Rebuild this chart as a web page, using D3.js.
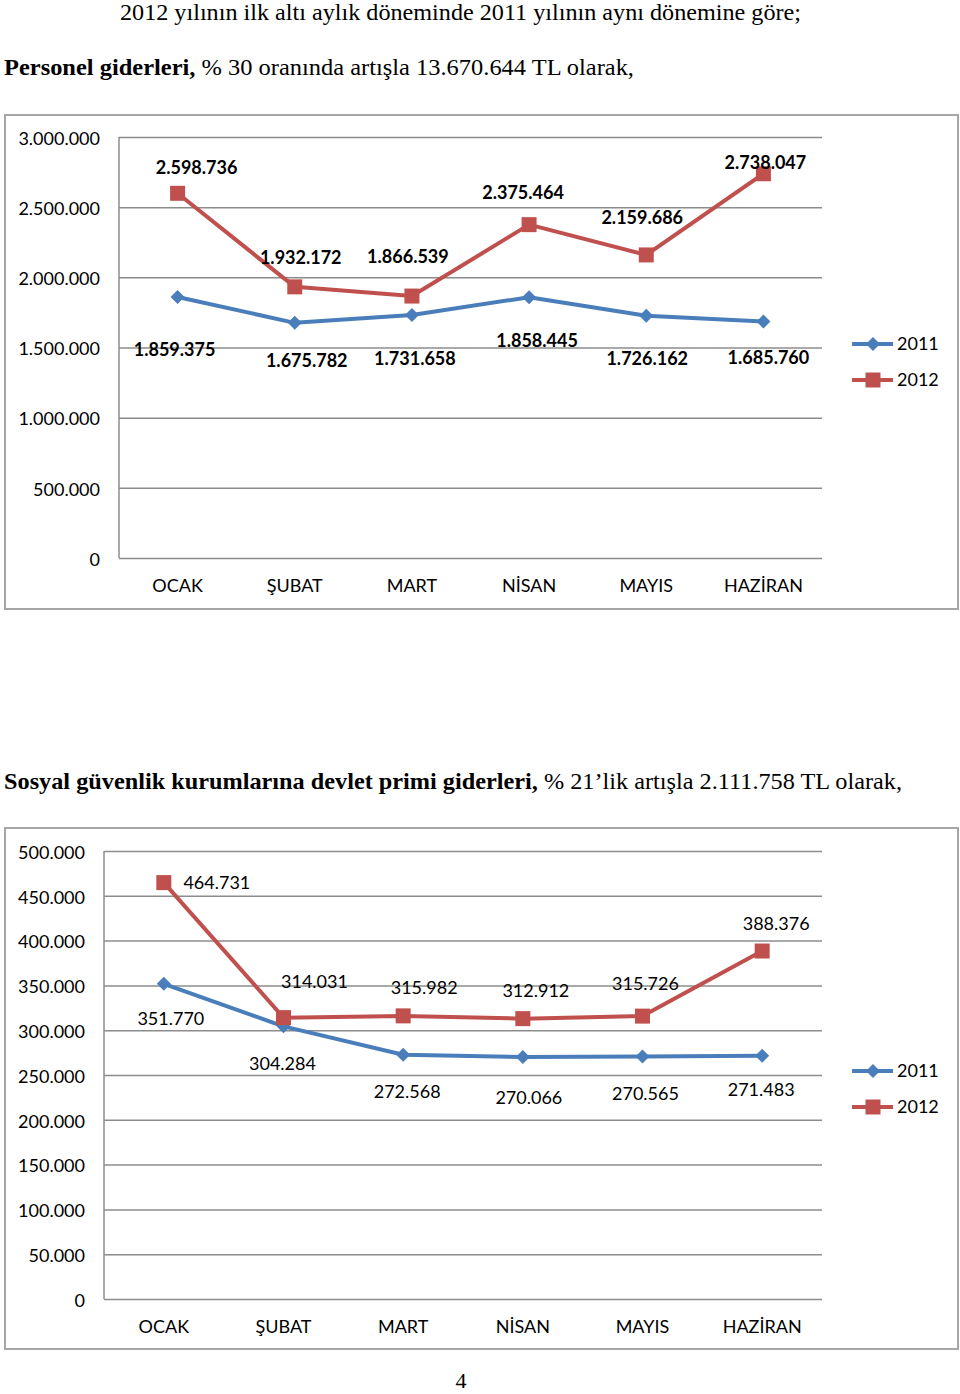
<!DOCTYPE html>
<html>
<head>
<meta charset="utf-8">
<script src="https://cdn.jsdelivr.net/npm/d3@7"></script>
<style>
  body { margin: 0; background: #fff; }
  svg { display: block; }
</style>
</head>
<body>
<svg id="page" width="960" height="1394"></svg>
<script>
// months shared by both charts
const months = ["OCAK", "ŞUBAT", "MART", "NİSAN", "MAYIS", "HAZİRAN"];
const years = ["2011", "2012"];

// Personel giderleri
const personel2011 = [1859375, 1675782, 1731658, 1858445, 1726162, 1685760];
const personel2012 = [2598736, 1932172, 1866539, 2375464, 2159686, 2738047];
const personelTicks = [0, 500000, 1000000, 1500000, 2000000, 2500000, 3000000];

// Sosyal guvenlik primleri
const sgk2011 = [351770, 304284, 272568, 270066, 270565, 271483];
const sgk2012 = [464731, 314031, 315982, 312912, 315726, 388376];
const sgkTicks = [0, 50000, 100000, 150000, 200000, 250000, 300000, 350000, 400000, 450000, 500000];

// label nudges (dx, dy from the marker), as placed by hand in the original
const personelOff2011 = [[-3, 52], [12, 38], [3, 43], [8, 43], [1, 43], [5, 36]];
const personelOff2012 = [[19, -26], [6, -29], [-4, -40], [-6, -32], [-4, -38], [2, -11]];
const sgkOff2011 = [[7, 35], [-1, 37], [4, 37], [6, 40], [3, 37], [-1, 34]];
const sgkOff2012 = [[53, 0], [31, -36], [21, -28], [13, -28], [3, -33], [14, -28]];

const blue = "#4a7ebb", red = "#c0504d";
const grid = "#8c8c8c";
const sans = "Lato, 'Open Sans', sans-serif";
const serif = "'Liberation Serif', 'Times New Roman', serif";

const trFmt = d3.formatLocale({ decimal: ",", thousands: ".", grouping: [3], currency: ["", ""] }).format(",");

const svg = d3.select("#page");

// header text
svg.append("text")
  .attr("x", 120).attr("y", 20)
  .attr("textLength", 681).attr("lengthAdjust", "spacingAndGlyphs")
  .style("font-family", serif).style("font-size", "23px")
  .text("2012 yılının ilk altı aylık döneminde 2011 yılının aynı dönemine göre;");

let t1 = svg.append("text").attr("x", 4).attr("y", 75)
  .attr("textLength", 630).attr("lengthAdjust", "spacingAndGlyphs")
  .style("font-family", serif).style("font-size", "23px");
t1.append("tspan").style("font-weight", "bold").text("Personel giderleri,");
t1.append("tspan").text("  % 30 oranında artışla 13.670.644 TL olarak,");

let t2 = svg.append("text").attr("x", 4).attr("y", 789)
  .attr("textLength", 898).attr("lengthAdjust", "spacingAndGlyphs")
  .style("font-family", serif).style("font-size", "23px");
t2.append("tspan").style("font-weight", "bold").text("Sosyal güvenlik kurumlarına devlet primi giderleri,");
t2.append("tspan").text(" % 21’lik artışla 2.111.758 TL olarak,");

svg.append("text")
  .attr("x", 461).attr("y", 1383).attr("text-anchor", "middle")
  .attr("dominant-baseline", "middle")
  .style("font-family", serif).style("font-size", "22px")
  .text("4");

function drawChart(cfg) {
  const g = svg.append("g");

  // outer frame
  g.append("rect")
    .attr("x", cfg.frame[0]).attr("y", cfg.frame[1])
    .attr("width", cfg.frame[2]).attr("height", cfg.frame[3])
    .attr("fill", "#fff").attr("stroke", "#a6a6a6").attr("stroke-width", 2);

  const x = d3.scalePoint().domain(months).range([cfg.left, cfg.right]).padding(0.5);
  const y = d3.scaleLinear().domain([0, d3.max(cfg.ticks)]).range([cfg.bottom, cfg.top]);

  // gridlines + tick labels
  const yAxis = g.append("g")
    .attr("transform", `translate(${cfg.left},0)`)
    .call(d3.axisLeft(y).tickValues(cfg.ticks).tickFormat(trFmt)
      .tickSize(-(cfg.right - cfg.left)).tickPadding(cfg.tickPad));
  yAxis.select(".domain").remove();
  yAxis.selectAll(".tick line").attr("stroke", grid).attr("stroke-width", 1.5);
  yAxis.selectAll(".tick text")
    .attr("fill", "#000").attr("dy", "0.4em")
    .style("font-family", sans).style("font-size", "18px");

  // vertical axis line
  g.append("line")
    .attr("x1", cfg.left).attr("x2", cfg.left)
    .attr("y1", cfg.top).attr("y2", cfg.bottom)
    .attr("stroke", grid).attr("stroke-width", 1.5);

  // month labels
  g.selectAll(".mlab").data(months).enter().append("text")
    .attr("x", d => x(d)).attr("y", cfg.bottom + 29)
    .attr("text-anchor", "middle").attr("dominant-baseline", "middle")
    .style("font-family", sans).style("font-size", "18px")
    .text(d => d);

  const line = d3.line().x((d, i) => x(months[i])).y(d => y(d));
  const diamond = d3.symbol(d3.symbolSquare, 98);
  const square = d3.symbol(d3.symbolSquare, 225);

  const series = [
    { vals: cfg.s2011, off: cfg.off2011, color: blue, kind: "d" },
    { vals: cfg.s2012, off: cfg.off2012, color: red, kind: "s" }
  ];

  series.forEach(s => {
    g.append("path").datum(s.vals)
      .attr("d", line).attr("fill", "none")
      .attr("stroke", s.color).attr("stroke-width", 4).attr("stroke-linejoin", "round");
    g.selectAll(null).data(s.vals).enter().append("path")
      .attr("d", s.kind === "d" ? diamond : square)
      .attr("transform", (d, i) => `translate(${x(months[i])},${y(d)})` + (s.kind === "d" ? " rotate(45)" : ""))
      .attr("fill", s.color);
  });

  // data labels on top
  series.forEach(s => {
    g.selectAll(null).data(s.vals).enter().append("text")
      .attr("x", (d, i) => x(months[i]) + s.off[i][0])
      .attr("y", (d, i) => y(d) + s.off[i][1] + 2)
      .attr("text-anchor", "middle").attr("dominant-baseline", "middle")
      .style("font-family", sans).style("font-size", "18px")
      .style("font-weight", cfg.bold ? "bold" : "normal")
      .text(d => trFmt(d));
  });

  // legend
  years.forEach((yr, i) => {
    const ly = cfg.legendY + i * 36;
    const c = i === 0 ? blue : red;
    g.append("line").attr("x1", 852).attr("x2", 893).attr("y1", ly).attr("y2", ly)
      .attr("stroke", c).attr("stroke-width", 4);
    g.append("path")
      .attr("d", i === 0 ? diamond : square)
      .attr("transform", `translate(873,${ly})` + (i === 0 ? " rotate(45)" : ""))
      .attr("fill", c);
    g.append("text").attr("x", 897).attr("y", ly + 1)
      .attr("dominant-baseline", "middle")
      .style("font-family", sans).style("font-size", "18px")
      .text(yr);
  });
}

drawChart({
  frame: [5, 115, 953, 494],
  left: 119, right: 822, top: 137, bottom: 558, tickPad: 19,
  ticks: personelTicks, s2011: personel2011, s2012: personel2012,
  off2011: personelOff2011, off2012: personelOff2012,
  bold: true, legendY: 344
});

drawChart({
  frame: [5, 828, 953, 521],
  left: 104, right: 822, top: 851, bottom: 1299, tickPad: 19,
  ticks: sgkTicks, s2011: sgk2011, s2012: sgk2012,
  off2011: sgkOff2011, off2012: sgkOff2012,
  bold: false, legendY: 1071
});
</script>
</body>
</html>
